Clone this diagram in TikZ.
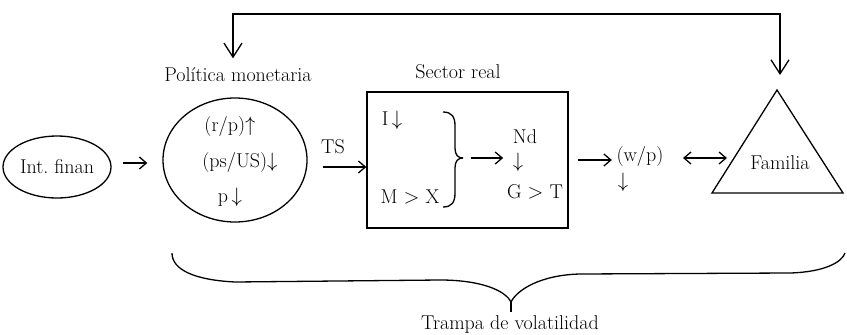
\documentclass[tikz,border=0pt]{standalone}
\usepackage{fontspec}
\usetikzlibrary{arrows.meta,calc,shapes.geometric}
\begin{document}
\begin{tikzpicture}[x=1pt,y=-1pt,line width=1.3pt,
  lbl/.style={font=\fontsize{20}{24}\selectfont, inner sep=0pt},
  arr/.style={-{Straight Barb[length=7pt,width=12pt,line width=1.3pt]}},
  dblarr/.style={{Straight Barb[length=7pt,width=12pt,line width=1.3pt]}-{Straight Barb[length=7pt,width=12pt,line width=1.3pt]}},
  bigboth/.style={{Straight Barb[length=14pt,width=18pt,line width=1.3pt]}-{Straight Barb[length=14pt,width=18pt,line width=1.3pt]}}
  ]
\useasboundingbox (0,0) rectangle (847,335);

% Int. finan
\node[lbl, draw, ellipse, inner sep=0pt, minimum width=108pt, minimum height=62pt] (intf) at (57,167) {Int.\ finan};

% Politica monetaria
\node[lbl] (poltit) at (238,75) {Política monetaria};
\node[draw, ellipse, minimum width=144pt, minimum height=124pt] (pol) at (235,160) {};
\node[lbl] (rp) at (230,127) {(r/p)$\uparrow$};
\node[lbl] (ps) at (240,163) {(ps/US)$\downarrow$};
\node[lbl] (pd) at (230,197) {p$\,\downarrow$};

\draw[arr, shorten <=11pt, shorten >=15pt] ($(intf.east)+(0,-4)$) -- ($(pol.west)+(0,3)$);

% Sector real
\node[lbl] (sect) at (458,72) {Sector real};
\node[draw, minimum width=201pt, minimum height=136pt] (box) at (467.5,160) {};
\node[lbl] (inv) at (392,120) {I$\,\downarrow$};
\node[lbl] (mx) at (410,197) {M $>$ X};
\node[lbl] (ts) at (333,147) {TS};
\draw[arr, shorten <=15pt] ($(pol.east)+(0,7)$) -- ($(box.west)+(0,7)$);

% inner brace
\coordinate (brtip) at (463,158);
\draw (443,112) .. controls (452,112) and (455,117) .. (455,126) -- (455,148)
      .. controls (455,155) and (458,158) .. (brtip);
\draw (443,207) .. controls (452,207) and (455,202) .. (455,193) -- (455,168)
      .. controls (455,161) and (458,158) .. (brtip);
\node[lbl] (nd) at (525,137) {Nd};
\node[lbl] (ndd) at (518,162) {$\downarrow$};
\node[lbl] (gt) at (535,192) {G $>$ T};
\draw[arr, shorten <=8pt, shorten >=9pt] (brtip) -- (ndd.west |- brtip);

% w/p
\node[lbl] (wp) at (640,157) {(w/p)};
\node[lbl] (wpd) at (623,182) {$\downarrow$};
\draw[arr, shorten <=9pt, shorten >=4pt] (box.east) -- (wp.west |- box.east);

% Familia triangle
\coordinate (ta) at (777,90);
\coordinate (tl) at (712,193);
\coordinate (tr) at (843,193);
\draw (tl) -- (ta) -- (tr) -- cycle;
\node[lbl] (fam) at (780,163) {Familia};
\draw[dblarr] (683,158) -- (727,158);

% feedback loop
\coordinate (fbL) at (233,14);
\coordinate (fbR) at (780,14);
\draw[bigboth] ($(poltit.north)+(-5,-9)$) -- (fbL) -- (fbR) -- ($(ta)+(3,-15)$);

% big brace
\coordinate (bigtip) at (511,302);
\draw (172,253) .. controls (172,270) and (195,280) .. (235,282) -- (440,280)
      .. controls (480,280) and (505,290) .. (bigtip)
      .. controls (517,290) and (540,275) .. (580,274) -- (790,273)
      .. controls (825,272) and (842,262) .. (845,253);
\draw (bigtip) -- (511,312);
\node[lbl] (trampa) at (510,325) {Trampa de volatilidad};
\end{tikzpicture}
\end{document}
